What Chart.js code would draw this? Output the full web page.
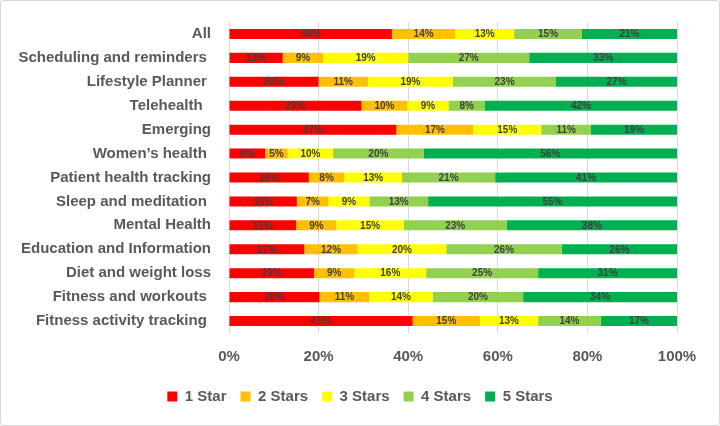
<!DOCTYPE html>
<html>
<head>
<meta charset="utf-8">
<script src="https://cdn.jsdelivr.net/npm/chart.js@4"></script>
<style>
  html, body { margin: 0; padding: 0; background: #fff; }
  #wrap {
    width: 720px; height: 426px; box-sizing: border-box;
    border: 1px solid #d9d9d9; border-radius: 3px; position: relative;
  }
  canvas { display: block; }
</style>
</head>
<body>
<div id="wrap"><canvas id="ratingChart" width="718" height="424"></canvas></div>
<script>
// app categories (trailing spaces kept as in the source sheet)
const categories = [
  'All', 'Scheduling and reminders ', 'Lifestyle Planner ', 'Telehealth  ',
  'Emerging', 'Women\u2019s health ', 'Patient health tracking', 'Sleep and meditation ',
  'Mental Health', 'Education and Information', 'Diet and weight loss',
  'Fitness and workouts ', 'Fitness activity tracking '
];

// share of ratings, in percent (as labelled)
const star1 = [36, 12, 20, 29, 37, 8, 18, 15, 15, 17, 19, 20, 41];
const star2 = [14, 9, 11, 10, 17, 5, 8, 7, 9, 12, 9, 11, 15];
const star3 = [13, 19, 19, 9, 15, 10, 13, 9, 15, 20, 16, 14, 13];
const star4 = [15, 27, 23, 8, 11, 20, 21, 13, 23, 26, 25, 20, 14];
const star5 = [21, 33, 27, 42, 19, 56, 41, 55, 38, 26, 31, 34, 17];

const seriesNames = ['1 Star', '2 Stars', '3 Stars', '4 Stars', '5 Stars'];
const seriesColors = ['#ff0000', '#ffc000', '#ffff00', '#92d050', '#00b050'];
const xTicks = [0, 20, 40, 60, 80, 100];

const allSeries = [star1, star2, star3, star4, star5];

// 100% stacked: scale each row so it fills the axis
const rowTotals = categories.map((c, i) => allSeries.reduce((s, arr) => s + arr[i], 0));

const datasets = allSeries.map((arr, k) => ({
  label: seriesNames[k],
  data: arr.map((v, i) => v / rowTotals[i] * 100),
  raw: arr,
  backgroundColor: seriesColors[k],
  borderWidth: 0,
  barPercentage: 0.42,
  categoryPercentage: 1.0
}));

const textGray = '#595959';
const gridGray = '#d9d9d9';
const fontFamily = '"Liberation Sans", Arial, sans-serif';

// simple inline data labels
const barLabels = {
  id: 'barLabels',
  afterDatasetsDraw(chart) {
    const ctx = chart.ctx;
    ctx.save();
    ctx.font = 'bold 10px ' + fontFamily;
    ctx.fillStyle = '#404040';
    ctx.textAlign = 'center';
    ctx.textBaseline = 'middle';
    chart.data.datasets.forEach((ds, di) => {
      const meta = chart.getDatasetMeta(di);
      meta.data.forEach((bar, i) => {
        const cx = (bar.x + bar.base) / 2;
        ctx.fillText(ds.raw[i] + '%', cx, bar.y + 0.5);
      });
    });
    ctx.restore();
  }
};

new Chart(document.getElementById('ratingChart').getContext('2d'), {
  type: 'bar',
  data: { labels: categories, datasets: datasets },
  plugins: [barLabels],
  options: {
    indexAxis: 'y',
    responsive: false,
    animation: false,
    layout: { padding: { top: 21, right: 0, bottom: 11, left: 0 } },
    scales: {
      x: {
        stacked: true,
        min: 0,
        max: 100,
        afterBuildTicks: scale => { scale.ticks = xTicks.map(v => ({ value: v })); },
        afterFit: scale => { scale.height = 42; },
        grid: { color: gridGray, drawTicks: false },
        border: { display: false },
        ticks: {
          padding: 15,
          color: textGray,
          font: { family: fontFamily, size: 15, weight: 'bold' },
          callback: v => v + '%'
        }
      },
      y: {
        stacked: true,
        afterFit: scale => { scale.width = 228; },
        grid: { display: false },
        border: { display: true, color: gridGray },
        ticks: {
          padding: 10,
          color: textGray,
          font: { family: fontFamily, size: 15, weight: 'bold' }
        }
      },
      // empty spacer on the right so the plot ends where the reference does
      spacer: {
        type: 'linear',
        position: 'right',
        afterFit: scale => { scale.width = 42; },
        grid: { display: false },
        border: { display: false },
        ticks: { display: false }
      }
    },
    plugins: {
      legend: {
        position: 'bottom',
        labels: {
          boxWidth: 10,
          boxHeight: 10,
          padding: 14,
          color: textGray,
          font: { family: fontFamily, size: 15, weight: 'bold' }
        }
      },
      tooltip: { enabled: false }
    }
  }
});
</script>
</body>
</html>
